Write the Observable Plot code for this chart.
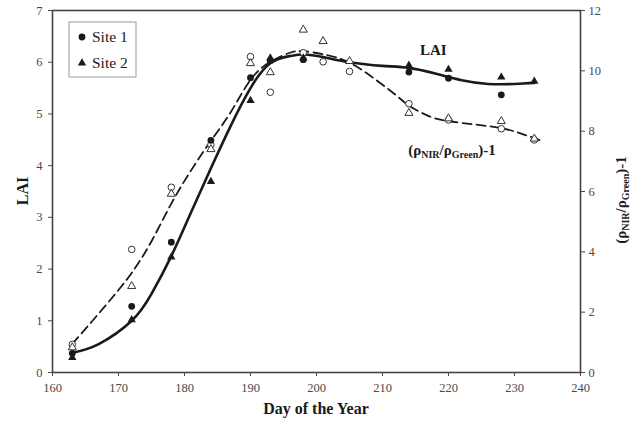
<!DOCTYPE html>
<html><head><meta charset="utf-8">
<script src="https://cdn.jsdelivr.net/npm/d3@7"></script>
<script src="https://cdn.jsdelivr.net/npm/@observablehq/plot@0.6"></script>
<style>
body{margin:0;background:#fff}
#chart{position:relative;width:635px;height:426px}
</style>
</head><body><div id="chart"></div>
<script>
// ---- data ----
const days        = [163, 172, 178, 184, 190, 193, 198, 201, 205, 214, 220, 228, 233];
const laiSite1    = [0.37, 1.28, 2.52, 4.49, 5.70, 6.03, 6.05, null, null, 5.81, 5.69, 5.37, null];
const laiSite2    = [0.29, 1.02, 2.23, 3.69, 5.26, 6.08, 6.08, null, null, 5.94, 5.86, 5.71, 5.63];
const ratioSite1  = [0.93, 4.08, 6.14, 7.55, 10.47, 9.29, 10.60, 10.30, 9.98, 8.91, 8.37, 8.08, 7.71];
const ratioSite2  = [0.83, 2.86, 5.92, 7.40, 10.25, 9.95, 11.36, 10.98, 10.32, 8.60, 8.42, 8.33, 7.75];

const laiCurveDays   = [163, 167, 172, 175, 178, 181, 184, 187, 190, 193, 196, 198, 201, 205, 210, 214, 218, 222, 226, 230, 233];
const laiCurveValues = [0.38, 0.55, 1.0, 1.52, 2.25, 3.1, 3.95, 4.77, 5.5, 5.98, 6.12, 6.15, 6.1, 6.0, 5.93, 5.89, 5.78, 5.65, 5.58, 5.58, 5.6];

const ratioCurveDays   = [163, 166, 169, 172, 175, 178, 181, 184, 187, 190, 193, 196, 198, 201, 205, 209, 212, 214, 217, 220, 224, 228, 231, 234];
const ratioCurveValues = [0.95, 1.7, 2.47, 3.3, 4.35, 5.6, 6.7, 7.68, 8.63, 9.7, 10.3, 10.6, 10.65, 10.55, 10.27, 9.7, 9.2, 8.85, 8.5, 8.33, 8.22, 8.1, 7.92, 7.69];

const xTicks     = [160, 170, 180, 190, 200, 210, 220, 230, 240];
const laiTicks   = [0, 1, 2, 3, 4, 5, 6, 7];
const ratioTicks = [0, 2, 4, 6, 8, 10, 12];
const laiMax = 7, ratioMax = 12;

const seriesNames = ["Site 1", "Site 2"];
const laiLabel = {day: 217.7, lai: 6.23, text: "LAI"};
const ratioLabel = {day: 220.6, ratio: 7.36};

// ---- build tables ----
const K = laiMax / ratioMax; // ratio -> LAI scale
const pts = (arr) => days.map((d, i) => ({day: d, v: arr[i]})).filter(p => p.v != null);
const s1 = pts(laiSite1), s2 = pts(laiSite2);
const r1 = pts(ratioSite1).map(p => ({day: p.day, v: p.v * K}));
const r2 = pts(ratioSite2).map(p => ({day: p.day, v: p.v * K}));
const laiCurve = laiCurveDays.map((d, i) => ({day: d, v: laiCurveValues[i]}));
const ratioCurve = ratioCurveDays.map((d, i) => ({day: d, v: ratioCurveValues[i] * K}));

const ink = "#1a1a1a";
const plot = Plot.plot({
  width: 635, height: 426,
  marginLeft: 52, marginRight: 55, marginTop: 10, marginBottom: 54,
  style: {fontFamily: "'Liberation Serif', 'Times New Roman', serif", fontSize: "12.5px", color: "#4a4a4a", background: "#fff"},
  x: {domain: [160, 240]},
  y: {domain: [0, laiMax]},
  marks: [
    Plot.line(ratioCurve, {x: "day", y: "v", curve: "natural", stroke: ink, strokeWidth: 1.8, strokeDasharray: "9,5"}),
    Plot.line(laiCurve, {x: "day", y: "v", curve: "natural", stroke: ink, strokeWidth: 2.6}),
    Plot.dot(r1, {x: "day", y: "v", r: 3.3, symbol: "circle", stroke: "#333", fill: "white", strokeWidth: 1}),
    Plot.dot(r2, {x: "day", y: "v", r: 3.0, symbol: "triangle", stroke: "#333", fill: "white", strokeWidth: 1}),
    Plot.dot(s1, {x: "day", y: "v", r: 3.4, symbol: "circle", fill: ink, stroke: "none"}),
    Plot.dot(s2, {x: "day", y: "v", r: 3.1, symbol: "triangle", fill: ink, stroke: "none"}),
    Plot.text([laiLabel], {x: "day", y: "lai", text: "text", fontWeight: "bold", fontSize: 15, fill: ink}),
    Plot.axisX(xTicks, {tickSize: 4, tickPadding: 7, label: null, tickFormat: d => String(d)}),
    Plot.axisY(laiTicks, {anchor: "left", tickSize: 4, tickPadding: 6, label: null, tickFormat: d => String(d)}),
    Plot.axisY(ratioTicks.map(v => v * K), {anchor: "right", tickSize: 4, tickPadding: 4, label: null, tickFormat: v => String(Math.round(v / K))}),
    Plot.frame({stroke: "#444", strokeWidth: 1.6})
  ]
});

const svg = d3.select(plot);
const xs = plot.scale("x"), ys = plot.scale("y");
const serif = "'Liberation Serif', 'Times New Roman', serif";

function ratioText(sel) {
  sel.append("tspan").text("(ρ");
  sel.append("tspan").text("NIR").attr("font-size", 10).attr("dy", 3);
  sel.append("tspan").text("/ρ").attr("dy", -3);
  sel.append("tspan").text("Green").attr("font-size", 10).attr("dy", 3);
  sel.append("tspan").text(")-1").attr("dy", -3);
}

// in-plot ratio label with subscripts
const rl = svg.append("text")
  .attr("x", xs.apply(ratioLabel.day)).attr("y", ys.apply(ratioLabel.ratio * K))
  .attr("text-anchor", "middle").attr("dy", "0.35em")
  .attr("font-family", serif).attr("font-weight", "bold").attr("font-size", 15).attr("fill", ink);
ratioText(rl);

// axis titles
svg.append("text").attr("transform", "translate(22,191) rotate(-90)")
  .attr("text-anchor", "middle").attr("dy", "0.35em")
  .attr("font-family", serif).attr("font-weight", "bold").attr("font-size", 16).attr("fill", ink).text("LAI");
svg.append("text").attr("x", 316).attr("y", 414)
  .attr("text-anchor", "middle")
  .attr("font-family", serif).attr("font-weight", "bold").attr("font-size", 16).attr("fill", ink).text("Day of the Year");
const rt = svg.append("text").attr("transform", "translate(621,200) rotate(-90)")
  .attr("text-anchor", "middle").attr("dy", "0.35em")
  .attr("font-family", serif).attr("font-weight", "bold").attr("font-size", 15).attr("fill", ink);
ratioText(rt);

// legend
const lg = svg.append("g").attr("transform", "translate(69,22)");
lg.append("rect").attr("width", 67).attr("height", 55).attr("fill", "white").attr("stroke", "#999").attr("stroke-width", 1);
const sym = [d3.symbolCircle, d3.symbolTriangle];
const sizes = [Math.PI * 3.4 * 3.4, Math.PI * 3.1 * 3.1];
seriesNames.forEach((name, i) => {
  const y = 15 + i * 26;
  lg.append("path").attr("d", d3.symbol(sym[i], sizes[i])()).attr("transform", `translate(13,${y})`).attr("fill", ink);
  lg.append("text").attr("x", 23).attr("y", y).attr("dy", "0.35em").attr("text-anchor", "start")
    .attr("font-family", serif).attr("font-size", 15.5).attr("fill", ink).text(name);
});

document.getElementById("chart").appendChild(plot);
</script>
</body></html>
